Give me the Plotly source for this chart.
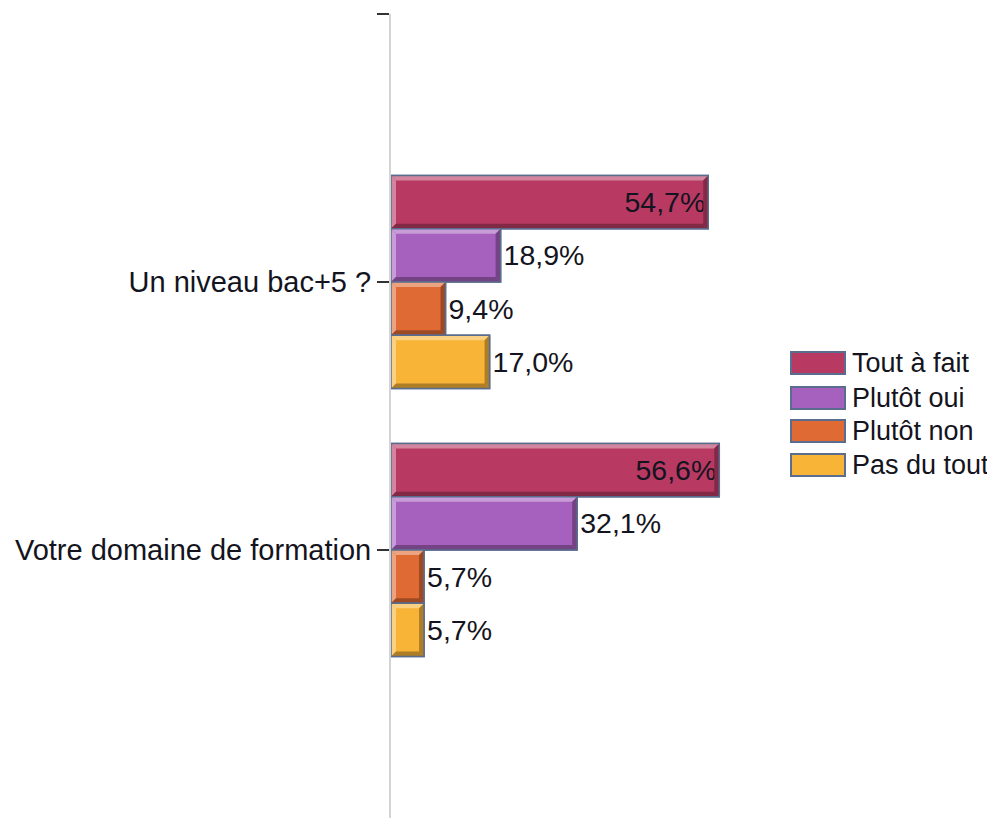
import plotly.graph_objects as go

categories = ["Un niveau bac+5 ?", "Votre domaine de formation"]
series_names = ["Tout à fait", "Plutôt oui", "Plutôt non", "Pas du tout"]
values = {
    "Tout à fait": [54.7, 56.6],
    "Plutôt oui": [18.9, 32.1],
    "Plutôt non": [9.4, 5.7],
    "Pas du tout": [17.0, 5.7],
}
colors = ["#b83a62", "#a660bd", "#df6a34", "#f7b436"]

cat_pos = [1, 2]

# layout geometry (pixels)
W, H = 995, 818
ML, MT, PW, PH = 383, 6, 406, 804
MR = W - ML - PW
MB = H - MT - PH
XMAX = 70
YR = [3, 0]
BARGAP = 0.205
BORDER = "#5b6d8f"
TXT = "#141420"
FONT = "Liberation Sans, Arial, sans-serif"


def blend(hexcol, other, t):
    h = hexcol.lstrip("#")
    r, g, b = int(h[0:2], 16), int(h[2:4], 16), int(h[4:6], 16)
    o = other.lstrip("#")
    r2, g2, b2 = int(o[0:2], 16), int(o[2:4], 16), int(o[4:6], 16)
    return "#%02x%02x%02x" % (round(r + (r2 - r) * t), round(g + (g2 - g) * t), round(b + (b2 - b) * t))


fig = go.Figure()
for name, col in zip(series_names, colors):
    vals = values[name]
    fig.add_trace(go.Bar(
        name=name,
        y=cat_pos,
        x=vals,
        orientation="h",
        marker=dict(color=col, line=dict(color=BORDER, width=1.5)),
        text=[f"{v:.1f}%".replace(".", ",") for v in vals],
        textposition=["inside" if v > 50 else "outside" for v in vals],
        insidetextanchor="end",
        textfont=dict(family=FONT, size=28.5, color=TXT),
        cliponaxis=False,
        showlegend=False,
    ))

# bevel decoration derived from the bar values through data coordinates
shapes = []
n = len(series_names)
bw = (1 - BARGAP) / n
bev_px = 5
dx = bev_px * XMAX / PW
dy = bev_px * (YR[0] - YR[1]) / PH
for i, (name, col) in enumerate(zip(series_names, colors)):
    light = blend(col, "#ffffff", 0.38)
    dark = blend(col, "#000000", 0.3)
    for c, v in zip(cat_pos, values[name]):
        yt = c + (-n / 2 + i) * bw
        yb = yt + bw
        x0, x1 = 0, v
        d = min(dx, v / 2)
        polys = [
            (light, [(x0, yt), (x1, yt), (x1 - d, yt + dy), (x0 + d, yt + dy)]),
            (light, [(x0, yt), (x0 + d, yt + dy), (x0 + d, yb - dy), (x0, yb)]),
            (dark, [(x1, yt), (x1, yb), (x1 - d, yb - dy), (x1 - d, yt + dy)]),
            (dark, [(x0, yb), (x1, yb), (x1 - d, yb - dy), (x0 + d, yb - dy)]),
        ]
        for fillc, pts in polys:
            path = "M " + " L ".join(f"{px},{py}" for px, py in pts) + " Z"
            shapes.append(dict(type="path", path=path, xref="x", yref="y",
                               fillcolor=fillc, line=dict(width=0), layer="above"))
        shapes.append(dict(type="rect", xref="x", yref="y", x0=x0, x1=x1, y0=yt, y1=yb,
                           line=dict(color=BORDER, width=1.5), fillcolor="rgba(0,0,0,0)",
                           layer="above"))


# custom legend (large swatches)
def px_to_paper_x(px):
    return (px - ML) / PW


def px_to_paper_y(py):
    return 1 - (py - MT) / PH


annotations = []
leg_x0, leg_w, leg_h = 783, 54, 22
leg_tops = [344, 379, 412, 446]
for name, col, top in zip(series_names, colors, leg_tops):
    shapes.append(dict(type="rect", xref="paper", yref="paper",
                       x0=px_to_paper_x(leg_x0), x1=px_to_paper_x(leg_x0 + leg_w),
                       y0=px_to_paper_y(top + leg_h), y1=px_to_paper_y(top),
                       fillcolor=col, line=dict(color=BORDER, width=2)))
    annotations.append(dict(xref="paper", yref="paper",
                            x=px_to_paper_x(leg_x0 + leg_w + 5), y=px_to_paper_y(top + leg_h / 2),
                            xanchor="left", yanchor="middle", text=name, showarrow=False,
                            font=dict(family=FONT, size=27, color=TXT)))

fig.update_layout(
    barmode="group",
    bargap=BARGAP,
    bargroupgap=0,
    width=W,
    height=H,
    margin=dict(l=ML, r=MR, t=MT, b=MB, autoexpand=False),
    plot_bgcolor="white",
    paper_bgcolor="white",
    font=dict(family=FONT, size=28, color=TXT),
    showlegend=False,
    shapes=shapes,
    annotations=annotations,
)
fig.update_xaxes(range=[0, XMAX], visible=False)
fig.update_yaxes(
    range=YR,
    tickvals=[0] + cat_pos,
    ticktext=[""] + categories,
    ticks="outside",
    ticklen=12,
    tickcolor="#333333",
    tickwidth=1.5,
    showline=True,
    linecolor="#d4d4d4",
    linewidth=2,
    showgrid=False,
    zeroline=False,
    tickfont=dict(family=FONT, size=29, color=TXT),
)

fig.write_html("out.html")
